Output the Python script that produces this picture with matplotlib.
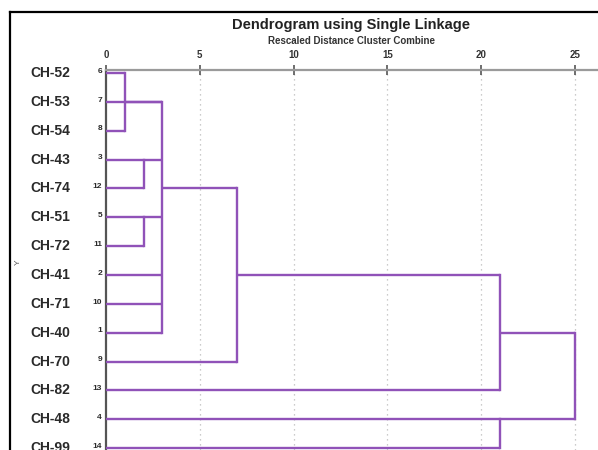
import matplotlib.pyplot as plt
from matplotlib.transforms import blended_transform_factory

# leaves, top to bottom, with their case numbers
labels = ['CH-52', 'CH-53', 'CH-54', 'CH-43', 'CH-74', 'CH-51', 'CH-72',
          'CH-41', 'CH-71', 'CH-40', 'CH-70', 'CH-82', 'CH-48', 'CH-99']
case_nums = [6, 7, 8, 3, 12, 5, 11, 2, 10, 1, 9, 13, 4, 14]

# merges: member node ids (leaves 0-13, clusters 14+), rescaled distance, row of new cluster line
merge_members = [[0, 2], [3, 4], [5, 6], [1, 14, 15, 16, 7, 8, 9],
                 [17, 10], [18, 11], [12, 13], [19, 20]]
merge_heights = [1, 2, 2, 3, 7, 21, 21, 25]
merge_rows = [1, 3, 5, 4, 7, 9, 12, 10]

ticks = [0, 5, 10, 15, 20, 25]

W, H = 598, 450
fig = plt.figure(figsize=(W / 100, H / 100), dpi=100)
plt.rcParams['font.family'] = ['Liberation Sans', 'DejaVu Sans']

# dendrogram axes: x 0 at px 106, 18.76 px per unit; rows 28.85 px apart starting at px 73
x0, ppu = 106, 18.76
y_top, y0, ppr = 70, 73, 28.85
ax = fig.add_axes([x0 / W, 0, (W - x0) / W, (H - y_top) / H])
ax.set_xlim(0, (W - x0) / ppu)
ax.set_ylim((H - y0) / ppr, (y_top - y0) / ppr)

purple = '#9052b8'
node_row = {i: i for i in range(len(labels))}
node_height = {i: 0 for i in range(len(labels))}
for k, (members, h, r) in enumerate(zip(merge_members, merge_heights, merge_rows)):
    rows = [node_row[m] for m in members]
    for m in members:
        ax.plot([node_height[m], h], [node_row[m]] * 2, color=purple, lw=1.7,
                solid_capstyle='butt', zorder=3)
    ax.plot([h, h], [min(rows), max(rows)], color=purple, lw=1.7,
            solid_capstyle='projecting', zorder=3)
    nid = len(labels) + k
    node_row[nid] = r
    node_height[nid] = h

# dotted guides and axis lines
for t in ticks[1:]:
    ax.axvline(t, color='#bbbbbb', lw=0.9, ls=(0, (1, 3)), zorder=1)
for s in ['right', 'bottom']:
    ax.spines[s].set_visible(False)
ax.spines['top'].set_color('#9a9a9a')
ax.spines['top'].set_linewidth(1.6)
ax.spines['left'].set_color('#555555')
ax.spines['left'].set_linewidth(1.6)
ax.xaxis.tick_top()
ax.set_xticks(ticks)
ax.set_xticklabels([str(t) for t in ticks], fontsize=7, fontweight='bold', color='#333333')
ax.tick_params(axis='x', direction='inout', length=7, width=1.2, color='#555555', pad=4)
ax.set_yticks([])

# leaf names and case numbers
tr = blended_transform_factory(fig.transFigure, ax.transData)
for i, (name, n) in enumerate(zip(labels, case_nums)):
    ax.text(30 / W, i, name, transform=tr, ha='left', va='center', fontsize=10,
            fontweight='bold', color='#2a2a2a', clip_on=False)
    ax.text(102 / W, i - 0.06, str(n), transform=tr, ha='right', va='center', fontsize=6,
            fontweight='bold', color='#2a2a2a', clip_on=False)

fig.text(351 / W, 1 - 25 / H, 'Dendrogram using Single Linkage', ha='center', va='center',
         fontsize=10.5, fontweight='bold', color='#222222')
fig.text(351 / W, 1 - 41 / H, 'Rescaled Distance Cluster Combine', ha='center', va='center',
         fontsize=7, fontweight='bold', color='#333333')
fig.text(18 / W, 1 - 262 / H, 'Y', ha='center', va='center', rotation=90,
         fontsize=6, color='#555555')

# outer frame (top and left edges)
fig.add_artist(plt.Line2D([10 / W, 1], [1 - 12 / H] * 2, color='black', lw=1.6))
fig.add_artist(plt.Line2D([10 / W] * 2, [0, 1 - 12 / H], color='black', lw=1.6))

fig.savefig('out.png', dpi=100)
